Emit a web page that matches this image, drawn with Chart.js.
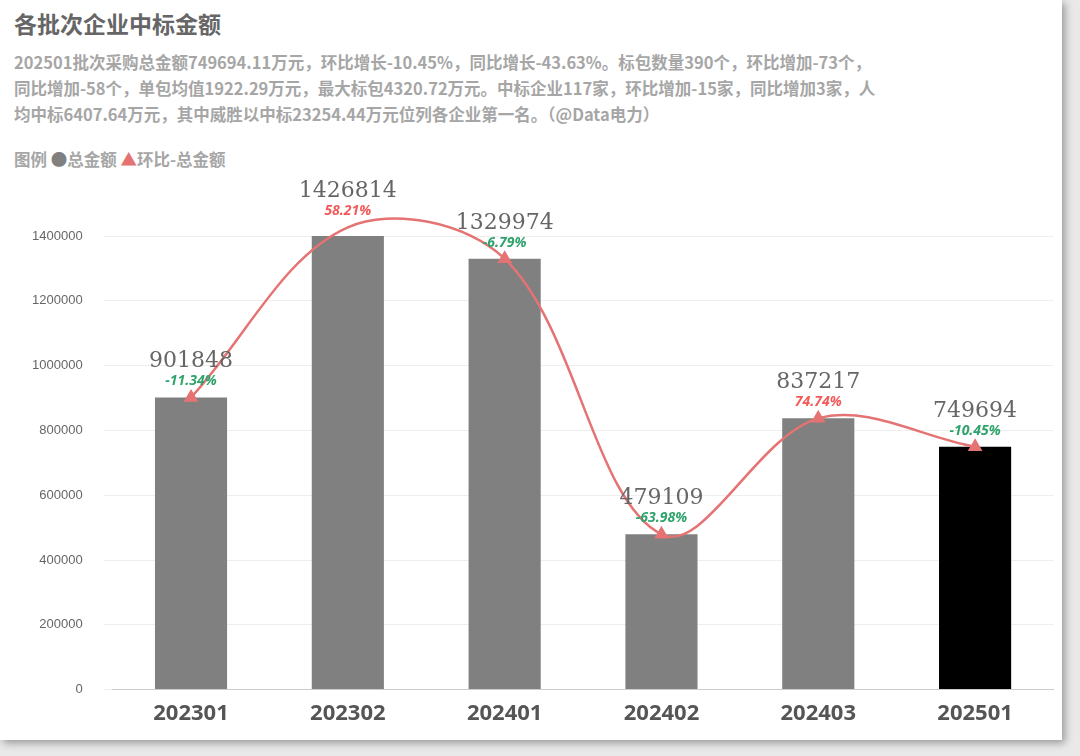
<!DOCTYPE html>
<html><head><meta charset="utf-8">
<script src="https://cdn.jsdelivr.net/npm/chart.js@4"></script>
<style>
body{margin:0;background:#e9e9e9;font-family:"Noto Sans CJK SC","Noto Sans",sans-serif;}
#card{position:absolute;left:0;top:0;width:1062px;height:740px;background:#fff;box-shadow:3px 3px 8px rgba(0,0,0,0.35);}
#title{position:absolute;left:14px;top:6px;font-size:23px;font-weight:bold;color:#666;}
#sub{position:absolute;left:14px;top:49px;width:1045px;font-size:16.5px;font-weight:bold;color:#a6a6a6;line-height:26px;white-space:nowrap;}
#legend{position:absolute;left:14px;top:147px;font-size:16.5px;font-weight:bold;color:#a6a6a6;}
#wrap{position:absolute;left:0;top:160px;width:1062px;height:570px;}
</style></head><body>
<div id="card">
<div id="title">各批次企业中标金额</div>
<div id="sub">202501批次采购总金额749694.11万元，环比增长-10.45%，同比增长-43.63%。标包数量390个，环比增加-73个，<br>同比增加-58个，单包均值1922.29万元，最大标包4320.72万元。中标企业117家，环比增加-15家，同比增加3家，人<br>均中标6407.64万元，其中威胜以中标23254.44万元位列各企业第一名。（@Data电力）</div>
<div id="legend">图例 <span style="color:#808080">●</span>总金额 <span style="color:#e57373">▲</span>环比-总金额</div>
<div id="wrap"><canvas id="c"></canvas></div>
</div>
<script>
const batches = ["202301","202302","202401","202402","202403","202501"];
const totals = [901848, 1426814, 1329974, 479109, 837217, 749694];
const momPct = [-11.34, 58.21, -6.79, -63.98, 74.74, -10.45];
const barColors = ["#808080","#808080","#808080","#808080","#808080","#000000"];

const labelPlugin = {
  id: "labels",
  afterDatasetsDraw(chart) {
    const ctx = chart.ctx;
    const meta = chart.getDatasetMeta(0);
    ctx.save();
    ctx.textAlign = "center";
    meta.data.forEach((pt, i) => {
      ctx.fillStyle = "#666";
      ctx.font = "22px 'DejaVu Serif', serif";
      ctx.fillText(totals[i], pt.x, pt.y - 30);
      ctx.fillStyle = momPct[i] < 0 ? "#2fa36b" : "#f25a5a";
      ctx.font = "italic bold 14px 'Noto Sans', sans-serif";
      ctx.fillText(momPct[i].toFixed(2) + "%", pt.x, pt.y - 12);
    });
    ctx.restore();
  }
};

new Chart("c", {
  data: {
    labels: batches,
    datasets: [
      { type: "line", label: "环比-总金额", data: totals, borderColor: "#e57373", borderWidth: 2.5,
        tension: 0.35, pointStyle: "triangle", pointRadius: 6, pointBackgroundColor: "#e57373",
        pointBorderColor: "#e57373", clip: false, order: 0 },
      { type: "bar", label: "总金额", data: totals, backgroundColor: barColors,
        barPercentage: 0.46, categoryPercentage: 1, order: 1 }
    ]
  },
  options: {
    responsive: true, maintainAspectRatio: false, animation: false,
    layout: { padding: { top: 76, right: 8, left: 10 } },
    plugins: { legend: { display: false }, tooltip: { enabled: false } },
    scales: {
      x: { grid: { display: false }, border: { color: "#ccc" },
        ticks: { color: "#555", font: { size: 22, weight: "bold", family: "'Noto Sans'" } } },
      y: { min: 0, max: 1400000, border: { display: false },
        grid: { color: "#eee" },
        ticks: { stepSize: 200000, color: "#666", font: { size: 13 }, padding: 22,
          callback: v => String(v) } }
    }
  },
  plugins: [labelPlugin]
});
</script>
</body></html>
